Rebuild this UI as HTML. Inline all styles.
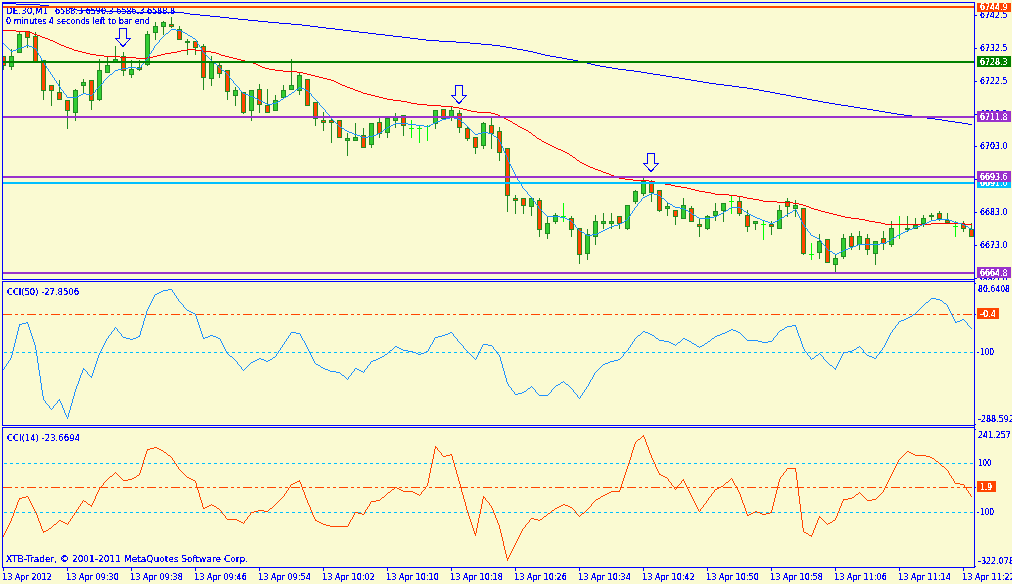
<!DOCTYPE html>
<html lang="en"><head><meta charset="utf-8"><title>DE.30,M1</title>
<style>html,body{margin:0;padding:0;background:#FAFAD2;overflow:hidden}svg{display:block}text{white-space:pre}</style></head>
<body>
<svg width="1012" height="584" viewBox="0 0 1012 584" style="display:block">
<rect x="0" y="0" width="1012" height="584" fill="#FAFAD2"/>
<g shape-rendering="crispEdges" font-family='"DejaVu Sans Condensed", "Liberation Sans", sans-serif'>
<defs><filter id="cr" x="-5%" y="-20%" width="110%" height="140%" color-interpolation-filters="sRGB"><feComponentTransfer><feFuncA type="discrete" tableValues="0 0 0 0 0 0 0 1 1 1 1 1 1 1 1 1 1 1 1 1"/></feComponentTransfer></filter><clipPath id="cm"><rect x="3" y="3" width="971" height="276"/></clipPath><clipPath id="c2"><rect x="3" y="282" width="971" height="143"/></clipPath><clipPath id="c3"><rect x="3" y="428" width="971" height="139"/></clipPath></defs>
<g clip-path="url(#cm)">
<text filter="url(#cr)" transform="translate(6,14) scale(1,1)" fill="#0000FF" stroke="#0000FF" stroke-width="0" font-size="9" textLength="45" lengthAdjust="spacingAndGlyphs">DE.30,M1 </text>
<text filter="url(#cr)" transform="translate(55,14) scale(1,1)" fill="#0000FF" stroke="#0000FF" stroke-width="0" font-size="9" textLength="120" lengthAdjust="spacingAndGlyphs">6588.3 6590.3 6586.3 6588.8</text>
<text filter="url(#cr)" transform="translate(6,24) scale(1,1)" fill="#0000FF" stroke="#0000FF" stroke-width="0" font-size="9" textLength="144" lengthAdjust="spacingAndGlyphs">0 minutes 4 seconds left to bar end</text>
<rect x="3" y="56" width="1" height="14" fill="#228B22"/>
<rect x="1" y="56" width="5" height="10" fill="#228B22"/>
<rect x="2" y="57" width="3" height="8" fill="#FF4500"/>
<rect x="11" y="49" width="1" height="21" fill="#228B22"/>
<rect x="9" y="56" width="5" height="11" fill="#228B22"/>
<rect x="10" y="57" width="3" height="9" fill="#32CD32"/>
<rect x="19" y="31" width="1" height="22" fill="#228B22"/>
<rect x="17" y="34" width="5" height="19" fill="#228B22"/>
<rect x="18" y="35" width="3" height="17" fill="#32CD32"/>
<rect x="27" y="31" width="1" height="17" fill="#228B22"/>
<rect x="25" y="31" width="5" height="7" fill="#228B22"/>
<rect x="26" y="32" width="3" height="5" fill="#FF4500"/>
<rect x="35" y="32" width="1" height="30" fill="#228B22"/>
<rect x="33" y="36" width="5" height="26" fill="#228B22"/>
<rect x="34" y="37" width="3" height="24" fill="#FF4500"/>
<rect x="43" y="60" width="1" height="40" fill="#228B22"/>
<rect x="41" y="60" width="5" height="31" fill="#228B22"/>
<rect x="42" y="61" width="3" height="29" fill="#FF4500"/>
<rect x="51" y="85" width="1" height="21" fill="#228B22"/>
<rect x="49" y="85" width="5" height="6" fill="#228B22"/>
<rect x="50" y="86" width="3" height="4" fill="#FF4500"/>
<rect x="59" y="80" width="1" height="20" fill="#228B22"/>
<rect x="57" y="92" width="5" height="8" fill="#228B22"/>
<rect x="58" y="93" width="3" height="6" fill="#FF4500"/>
<rect x="67" y="100" width="1" height="29" fill="#228B22"/>
<rect x="65" y="100" width="5" height="11" fill="#228B22"/>
<rect x="66" y="101" width="3" height="9" fill="#FF4500"/>
<rect x="75" y="89" width="1" height="32" fill="#228B22"/>
<rect x="73" y="90" width="5" height="23" fill="#228B22"/>
<rect x="74" y="91" width="3" height="21" fill="#32CD32"/>
<rect x="83" y="79" width="1" height="15" fill="#228B22"/>
<rect x="81" y="82" width="5" height="4" fill="#228B22"/>
<rect x="82" y="83" width="3" height="2" fill="#32CD32"/>
<rect x="91" y="80" width="1" height="30" fill="#228B22"/>
<rect x="89" y="80" width="5" height="21" fill="#228B22"/>
<rect x="90" y="81" width="3" height="19" fill="#FF4500"/>
<rect x="99" y="59" width="1" height="42" fill="#228B22"/>
<rect x="97" y="70" width="5" height="30" fill="#228B22"/>
<rect x="98" y="71" width="3" height="28" fill="#32CD32"/>
<rect x="107" y="57" width="1" height="16" fill="#228B22"/>
<rect x="105" y="65" width="5" height="8" fill="#228B22"/>
<rect x="106" y="66" width="3" height="6" fill="#32CD32"/>
<rect x="115" y="46" width="1" height="16" fill="#228B22"/>
<rect x="113" y="59" width="5" height="3" fill="#228B22"/>
<rect x="114" y="60" width="3" height="1" fill="#32CD32"/>
<rect x="123" y="52" width="1" height="24" fill="#228B22"/>
<rect x="121" y="56" width="5" height="15" fill="#228B22"/>
<rect x="122" y="57" width="3" height="13" fill="#FF4500"/>
<rect x="131" y="60" width="1" height="18" fill="#228B22"/>
<rect x="129" y="69" width="5" height="6" fill="#228B22"/>
<rect x="130" y="70" width="3" height="4" fill="#32CD32"/>
<rect x="139" y="60" width="1" height="11" fill="#228B22"/>
<rect x="137" y="67" width="5" height="3" fill="#228B22"/>
<rect x="138" y="68" width="3" height="1" fill="#FF4500"/>
<rect x="147" y="31" width="1" height="35" fill="#228B22"/>
<rect x="145" y="34" width="5" height="31" fill="#228B22"/>
<rect x="146" y="35" width="3" height="29" fill="#32CD32"/>
<rect x="155" y="22" width="1" height="18" fill="#228B22"/>
<rect x="153" y="26" width="5" height="7" fill="#228B22"/>
<rect x="154" y="27" width="3" height="5" fill="#32CD32"/>
<rect x="163" y="21" width="1" height="14" fill="#228B22"/>
<rect x="161" y="22" width="5" height="5" fill="#228B22"/>
<rect x="162" y="23" width="3" height="3" fill="#32CD32"/>
<rect x="171" y="17" width="1" height="11" fill="#228B22"/>
<rect x="169" y="24" width="5" height="3" fill="#228B22"/>
<rect x="170" y="25" width="3" height="1" fill="#FF4500"/>
<rect x="179" y="26" width="1" height="14" fill="#228B22"/>
<rect x="177" y="29" width="5" height="11" fill="#228B22"/>
<rect x="178" y="30" width="3" height="9" fill="#FF4500"/>
<rect x="187" y="39" width="1" height="16" fill="#228B22"/>
<rect x="185" y="41" width="5" height="2" fill="#228B22"/>
<rect x="195" y="41" width="1" height="14" fill="#228B22"/>
<rect x="193" y="41" width="5" height="7" fill="#228B22"/>
<rect x="194" y="42" width="3" height="5" fill="#FF4500"/>
<rect x="203" y="44" width="1" height="46" fill="#228B22"/>
<rect x="201" y="46" width="5" height="32" fill="#228B22"/>
<rect x="202" y="47" width="3" height="30" fill="#FF4500"/>
<rect x="211" y="56" width="1" height="30" fill="#228B22"/>
<rect x="209" y="62" width="5" height="17" fill="#228B22"/>
<rect x="210" y="63" width="3" height="15" fill="#32CD32"/>
<rect x="219" y="63" width="1" height="15" fill="#228B22"/>
<rect x="217" y="65" width="5" height="9" fill="#228B22"/>
<rect x="218" y="66" width="3" height="7" fill="#FF4500"/>
<rect x="227" y="70" width="1" height="30" fill="#228B22"/>
<rect x="225" y="70" width="5" height="22" fill="#228B22"/>
<rect x="226" y="71" width="3" height="20" fill="#FF4500"/>
<rect x="235" y="87" width="1" height="19" fill="#228B22"/>
<rect x="233" y="90" width="5" height="6" fill="#228B22"/>
<rect x="234" y="91" width="3" height="4" fill="#32CD32"/>
<rect x="243" y="92" width="1" height="22" fill="#228B22"/>
<rect x="241" y="92" width="5" height="21" fill="#228B22"/>
<rect x="242" y="93" width="3" height="19" fill="#FF4500"/>
<rect x="251" y="90" width="1" height="31" fill="#228B22"/>
<rect x="249" y="90" width="5" height="21" fill="#228B22"/>
<rect x="250" y="91" width="3" height="19" fill="#32CD32"/>
<rect x="259" y="84" width="1" height="29" fill="#228B22"/>
<rect x="257" y="89" width="5" height="16" fill="#228B22"/>
<rect x="258" y="90" width="3" height="14" fill="#FF4500"/>
<rect x="267" y="89" width="1" height="24" fill="#228B22"/>
<rect x="265" y="105" width="5" height="8" fill="#228B22"/>
<rect x="266" y="106" width="3" height="6" fill="#FF4500"/>
<rect x="275" y="95" width="1" height="16" fill="#228B22"/>
<rect x="273" y="100" width="5" height="11" fill="#228B22"/>
<rect x="274" y="101" width="3" height="9" fill="#32CD32"/>
<rect x="283" y="85" width="1" height="13" fill="#228B22"/>
<rect x="281" y="90" width="5" height="8" fill="#228B22"/>
<rect x="282" y="91" width="3" height="6" fill="#32CD32"/>
<rect x="291" y="59" width="1" height="31" fill="#228B22"/>
<rect x="289" y="85" width="5" height="5" fill="#228B22"/>
<rect x="290" y="86" width="3" height="3" fill="#32CD32"/>
<rect x="299" y="72" width="1" height="23" fill="#228B22"/>
<rect x="297" y="75" width="5" height="16" fill="#228B22"/>
<rect x="298" y="76" width="3" height="14" fill="#32CD32"/>
<rect x="307" y="79" width="1" height="27" fill="#228B22"/>
<rect x="305" y="79" width="5" height="27" fill="#228B22"/>
<rect x="306" y="80" width="3" height="25" fill="#FF4500"/>
<rect x="315" y="102" width="1" height="24" fill="#228B22"/>
<rect x="313" y="102" width="5" height="17" fill="#228B22"/>
<rect x="314" y="103" width="3" height="15" fill="#FF4500"/>
<rect x="323" y="112" width="1" height="19" fill="#228B22"/>
<rect x="321" y="120" width="5" height="3" fill="#228B22"/>
<rect x="322" y="121" width="3" height="1" fill="#FF4500"/>
<rect x="331" y="116" width="1" height="27" fill="#228B22"/>
<rect x="329" y="120" width="5" height="3" fill="#228B22"/>
<rect x="330" y="121" width="3" height="1" fill="#FF4500"/>
<rect x="339" y="120" width="1" height="18" fill="#228B22"/>
<rect x="337" y="120" width="5" height="18" fill="#228B22"/>
<rect x="338" y="121" width="3" height="16" fill="#FF4500"/>
<rect x="347" y="133" width="1" height="23" fill="#228B22"/>
<rect x="345" y="138" width="5" height="3" fill="#228B22"/>
<rect x="346" y="139" width="3" height="1" fill="#32CD32"/>
<rect x="355" y="123" width="1" height="18" fill="#228B22"/>
<rect x="353" y="137" width="5" height="4" fill="#228B22"/>
<rect x="354" y="138" width="3" height="2" fill="#32CD32"/>
<rect x="363" y="128" width="1" height="20" fill="#228B22"/>
<rect x="361" y="135" width="5" height="13" fill="#228B22"/>
<rect x="362" y="136" width="3" height="11" fill="#FF4500"/>
<rect x="371" y="123" width="1" height="25" fill="#228B22"/>
<rect x="369" y="123" width="5" height="22" fill="#228B22"/>
<rect x="370" y="124" width="3" height="20" fill="#32CD32"/>
<rect x="379" y="118" width="1" height="20" fill="#228B22"/>
<rect x="377" y="122" width="5" height="12" fill="#228B22"/>
<rect x="378" y="123" width="3" height="10" fill="#FF4500"/>
<rect x="387" y="118" width="1" height="20" fill="#228B22"/>
<rect x="385" y="118" width="5" height="15" fill="#228B22"/>
<rect x="386" y="119" width="3" height="13" fill="#32CD32"/>
<rect x="395" y="113" width="1" height="15" fill="#228B22"/>
<rect x="393" y="117" width="5" height="4" fill="#228B22"/>
<rect x="394" y="118" width="3" height="2" fill="#32CD32"/>
<rect x="403" y="115" width="1" height="21" fill="#228B22"/>
<rect x="401" y="115" width="5" height="11" fill="#228B22"/>
<rect x="402" y="116" width="3" height="9" fill="#FF4500"/>
<rect x="411" y="120" width="1" height="18" fill="#00FF00"/>
<rect x="409" y="128" width="5" height="1" fill="#00FF00"/>
<rect x="419" y="126" width="1" height="17" fill="#00FF00"/>
<rect x="417" y="128" width="5" height="1" fill="#00FF00"/>
<rect x="427" y="125" width="1" height="16" fill="#00FF00"/>
<rect x="425" y="126" width="5" height="1" fill="#00FF00"/>
<rect x="435" y="110" width="1" height="19" fill="#228B22"/>
<rect x="433" y="110" width="5" height="14" fill="#228B22"/>
<rect x="434" y="111" width="3" height="12" fill="#32CD32"/>
<rect x="443" y="109" width="1" height="10" fill="#228B22"/>
<rect x="441" y="109" width="5" height="10" fill="#228B22"/>
<rect x="442" y="110" width="3" height="8" fill="#FF4500"/>
<rect x="451" y="106" width="1" height="15" fill="#228B22"/>
<rect x="449" y="110" width="5" height="7" fill="#228B22"/>
<rect x="450" y="111" width="3" height="5" fill="#32CD32"/>
<rect x="459" y="110" width="1" height="23" fill="#228B22"/>
<rect x="457" y="113" width="5" height="15" fill="#228B22"/>
<rect x="458" y="114" width="3" height="13" fill="#FF4500"/>
<rect x="467" y="126" width="1" height="15" fill="#228B22"/>
<rect x="465" y="128" width="5" height="11" fill="#228B22"/>
<rect x="466" y="129" width="3" height="9" fill="#FF4500"/>
<rect x="475" y="137" width="1" height="17" fill="#228B22"/>
<rect x="473" y="137" width="5" height="11" fill="#228B22"/>
<rect x="474" y="138" width="3" height="9" fill="#FF4500"/>
<rect x="483" y="122" width="1" height="27" fill="#228B22"/>
<rect x="481" y="123" width="5" height="23" fill="#228B22"/>
<rect x="482" y="124" width="3" height="21" fill="#32CD32"/>
<rect x="491" y="118" width="1" height="31" fill="#228B22"/>
<rect x="489" y="125" width="5" height="9" fill="#228B22"/>
<rect x="490" y="126" width="3" height="7" fill="#FF4500"/>
<rect x="499" y="127" width="1" height="34" fill="#228B22"/>
<rect x="497" y="131" width="5" height="22" fill="#228B22"/>
<rect x="498" y="132" width="3" height="20" fill="#FF4500"/>
<rect x="507" y="148" width="1" height="64" fill="#228B22"/>
<rect x="505" y="148" width="5" height="48" fill="#228B22"/>
<rect x="506" y="149" width="3" height="46" fill="#FF4500"/>
<rect x="515" y="195" width="1" height="19" fill="#228B22"/>
<rect x="513" y="198" width="5" height="3" fill="#228B22"/>
<rect x="514" y="199" width="3" height="1" fill="#FF4500"/>
<rect x="523" y="198" width="1" height="16" fill="#228B22"/>
<rect x="521" y="198" width="5" height="8" fill="#228B22"/>
<rect x="522" y="199" width="3" height="6" fill="#FF4500"/>
<rect x="531" y="198" width="1" height="18" fill="#228B22"/>
<rect x="529" y="198" width="5" height="9" fill="#228B22"/>
<rect x="530" y="199" width="3" height="7" fill="#32CD32"/>
<rect x="539" y="198" width="1" height="39" fill="#228B22"/>
<rect x="537" y="200" width="5" height="30" fill="#228B22"/>
<rect x="538" y="201" width="3" height="28" fill="#FF4500"/>
<rect x="547" y="217" width="1" height="22" fill="#228B22"/>
<rect x="545" y="223" width="5" height="11" fill="#228B22"/>
<rect x="546" y="224" width="3" height="9" fill="#32CD32"/>
<rect x="555" y="213" width="1" height="11" fill="#228B22"/>
<rect x="553" y="215" width="5" height="7" fill="#228B22"/>
<rect x="554" y="216" width="3" height="5" fill="#32CD32"/>
<rect x="563" y="203" width="1" height="19" fill="#00FF00"/>
<rect x="561" y="216" width="5" height="1" fill="#00FF00"/>
<rect x="571" y="216" width="1" height="21" fill="#228B22"/>
<rect x="569" y="218" width="5" height="12" fill="#228B22"/>
<rect x="570" y="219" width="3" height="10" fill="#FF4500"/>
<rect x="579" y="228" width="1" height="36" fill="#228B22"/>
<rect x="577" y="228" width="5" height="27" fill="#228B22"/>
<rect x="578" y="229" width="3" height="25" fill="#FF4500"/>
<rect x="587" y="229" width="1" height="31" fill="#228B22"/>
<rect x="585" y="234" width="5" height="20" fill="#228B22"/>
<rect x="586" y="235" width="3" height="18" fill="#32CD32"/>
<rect x="595" y="215" width="1" height="30" fill="#228B22"/>
<rect x="593" y="221" width="5" height="16" fill="#228B22"/>
<rect x="594" y="222" width="3" height="14" fill="#32CD32"/>
<rect x="603" y="213" width="1" height="16" fill="#228B22"/>
<rect x="601" y="221" width="5" height="3" fill="#228B22"/>
<rect x="602" y="222" width="3" height="1" fill="#32CD32"/>
<rect x="611" y="213" width="1" height="16" fill="#228B22"/>
<rect x="609" y="221" width="5" height="3" fill="#228B22"/>
<rect x="610" y="222" width="3" height="1" fill="#32CD32"/>
<rect x="619" y="216" width="1" height="13" fill="#228B22"/>
<rect x="617" y="216" width="5" height="8" fill="#228B22"/>
<rect x="618" y="217" width="3" height="6" fill="#FF4500"/>
<rect x="627" y="205" width="1" height="25" fill="#228B22"/>
<rect x="625" y="205" width="5" height="24" fill="#228B22"/>
<rect x="626" y="206" width="3" height="22" fill="#32CD32"/>
<rect x="635" y="190" width="1" height="14" fill="#228B22"/>
<rect x="633" y="191" width="5" height="11" fill="#228B22"/>
<rect x="634" y="192" width="3" height="9" fill="#32CD32"/>
<rect x="643" y="178" width="1" height="18" fill="#228B22"/>
<rect x="641" y="181" width="5" height="13" fill="#228B22"/>
<rect x="642" y="182" width="3" height="11" fill="#32CD32"/>
<rect x="651" y="180" width="1" height="22" fill="#228B22"/>
<rect x="649" y="181" width="5" height="12" fill="#228B22"/>
<rect x="650" y="182" width="3" height="10" fill="#FF4500"/>
<rect x="659" y="190" width="1" height="22" fill="#228B22"/>
<rect x="657" y="190" width="5" height="21" fill="#228B22"/>
<rect x="658" y="191" width="3" height="19" fill="#FF4500"/>
<rect x="667" y="203" width="1" height="13" fill="#228B22"/>
<rect x="665" y="206" width="5" height="3" fill="#228B22"/>
<rect x="666" y="207" width="3" height="1" fill="#32CD32"/>
<rect x="675" y="210" width="1" height="15" fill="#228B22"/>
<rect x="673" y="210" width="5" height="7" fill="#228B22"/>
<rect x="674" y="211" width="3" height="5" fill="#FF4500"/>
<rect x="683" y="198" width="1" height="21" fill="#228B22"/>
<rect x="681" y="205" width="5" height="14" fill="#228B22"/>
<rect x="682" y="206" width="3" height="12" fill="#32CD32"/>
<rect x="691" y="206" width="1" height="16" fill="#228B22"/>
<rect x="689" y="208" width="5" height="14" fill="#228B22"/>
<rect x="690" y="209" width="3" height="12" fill="#FF4500"/>
<rect x="699" y="219" width="1" height="18" fill="#228B22"/>
<rect x="697" y="224" width="5" height="3" fill="#228B22"/>
<rect x="698" y="225" width="3" height="1" fill="#FF4500"/>
<rect x="707" y="215" width="1" height="15" fill="#228B22"/>
<rect x="705" y="216" width="5" height="13" fill="#228B22"/>
<rect x="706" y="217" width="3" height="11" fill="#32CD32"/>
<rect x="715" y="203" width="1" height="18" fill="#228B22"/>
<rect x="713" y="211" width="5" height="5" fill="#228B22"/>
<rect x="714" y="212" width="3" height="3" fill="#32CD32"/>
<rect x="723" y="203" width="1" height="19" fill="#228B22"/>
<rect x="721" y="203" width="5" height="8" fill="#228B22"/>
<rect x="722" y="204" width="3" height="6" fill="#32CD32"/>
<rect x="731" y="196" width="1" height="18" fill="#00FF00"/>
<rect x="729" y="201" width="5" height="1" fill="#00FF00"/>
<rect x="739" y="196" width="1" height="20" fill="#228B22"/>
<rect x="737" y="201" width="5" height="13" fill="#228B22"/>
<rect x="738" y="202" width="3" height="11" fill="#FF4500"/>
<rect x="747" y="210" width="1" height="22" fill="#228B22"/>
<rect x="745" y="215" width="5" height="12" fill="#228B22"/>
<rect x="746" y="216" width="3" height="10" fill="#FF4500"/>
<rect x="755" y="221" width="1" height="9" fill="#228B22"/>
<rect x="753" y="221" width="5" height="3" fill="#228B22"/>
<rect x="754" y="222" width="3" height="1" fill="#32CD32"/>
<rect x="763" y="221" width="1" height="19" fill="#00FF00"/>
<rect x="761" y="224" width="5" height="1" fill="#00FF00"/>
<rect x="771" y="221" width="1" height="14" fill="#228B22"/>
<rect x="769" y="224" width="5" height="3" fill="#228B22"/>
<rect x="770" y="225" width="3" height="1" fill="#FF4500"/>
<rect x="779" y="205" width="1" height="24" fill="#228B22"/>
<rect x="777" y="210" width="5" height="19" fill="#228B22"/>
<rect x="778" y="211" width="3" height="17" fill="#32CD32"/>
<rect x="787" y="198" width="1" height="19" fill="#228B22"/>
<rect x="785" y="201" width="5" height="6" fill="#228B22"/>
<rect x="786" y="202" width="3" height="4" fill="#FF4500"/>
<rect x="795" y="200" width="1" height="17" fill="#228B22"/>
<rect x="793" y="205" width="5" height="4" fill="#228B22"/>
<rect x="794" y="206" width="3" height="2" fill="#32CD32"/>
<rect x="803" y="208" width="1" height="47" fill="#228B22"/>
<rect x="801" y="208" width="5" height="46" fill="#228B22"/>
<rect x="802" y="209" width="3" height="44" fill="#FF4500"/>
<rect x="811" y="243" width="1" height="17" fill="#00FF00"/>
<rect x="809" y="254" width="5" height="1" fill="#00FF00"/>
<rect x="819" y="234" width="1" height="25" fill="#228B22"/>
<rect x="817" y="241" width="5" height="12" fill="#228B22"/>
<rect x="818" y="242" width="3" height="10" fill="#32CD32"/>
<rect x="827" y="239" width="1" height="24" fill="#228B22"/>
<rect x="825" y="239" width="5" height="24" fill="#228B22"/>
<rect x="826" y="240" width="3" height="22" fill="#FF4500"/>
<rect x="835" y="255" width="1" height="17" fill="#228B22"/>
<rect x="833" y="258" width="5" height="7" fill="#228B22"/>
<rect x="834" y="259" width="3" height="5" fill="#32CD32"/>
<rect x="843" y="234" width="1" height="25" fill="#228B22"/>
<rect x="841" y="238" width="5" height="19" fill="#228B22"/>
<rect x="842" y="239" width="3" height="17" fill="#32CD32"/>
<rect x="851" y="233" width="1" height="17" fill="#228B22"/>
<rect x="849" y="236" width="5" height="11" fill="#228B22"/>
<rect x="850" y="237" width="3" height="9" fill="#FF4500"/>
<rect x="859" y="231" width="1" height="19" fill="#228B22"/>
<rect x="857" y="236" width="5" height="9" fill="#228B22"/>
<rect x="858" y="237" width="3" height="7" fill="#32CD32"/>
<rect x="867" y="234" width="1" height="21" fill="#228B22"/>
<rect x="865" y="238" width="5" height="12" fill="#228B22"/>
<rect x="866" y="239" width="3" height="10" fill="#FF4500"/>
<rect x="875" y="241" width="1" height="24" fill="#228B22"/>
<rect x="873" y="241" width="5" height="13" fill="#228B22"/>
<rect x="874" y="242" width="3" height="11" fill="#32CD32"/>
<rect x="883" y="231" width="1" height="19" fill="#228B22"/>
<rect x="881" y="238" width="5" height="6" fill="#228B22"/>
<rect x="882" y="239" width="3" height="4" fill="#FF4500"/>
<rect x="891" y="221" width="1" height="26" fill="#228B22"/>
<rect x="889" y="228" width="5" height="17" fill="#228B22"/>
<rect x="890" y="229" width="3" height="15" fill="#32CD32"/>
<rect x="899" y="216" width="1" height="23" fill="#00FF00"/>
<rect x="907" y="216" width="1" height="16" fill="#228B22"/>
<rect x="905" y="228" width="5" height="2" fill="#228B22"/>
<rect x="915" y="218" width="1" height="11" fill="#228B22"/>
<rect x="913" y="225" width="5" height="4" fill="#228B22"/>
<rect x="914" y="226" width="3" height="2" fill="#32CD32"/>
<rect x="923" y="215" width="1" height="12" fill="#228B22"/>
<rect x="921" y="218" width="5" height="6" fill="#228B22"/>
<rect x="922" y="219" width="3" height="4" fill="#32CD32"/>
<rect x="931" y="213" width="1" height="7" fill="#228B22"/>
<rect x="929" y="215" width="5" height="2" fill="#228B22"/>
<rect x="939" y="211" width="1" height="10" fill="#228B22"/>
<rect x="937" y="213" width="5" height="6" fill="#228B22"/>
<rect x="938" y="214" width="3" height="4" fill="#FF4500"/>
<rect x="947" y="213" width="1" height="10" fill="#228B22"/>
<rect x="945" y="220" width="5" height="3" fill="#228B22"/>
<rect x="946" y="221" width="3" height="1" fill="#FF4500"/>
<rect x="955" y="221" width="1" height="16" fill="#00FF00"/>
<rect x="953" y="226" width="5" height="1" fill="#00FF00"/>
<rect x="963" y="221" width="1" height="11" fill="#228B22"/>
<rect x="961" y="224" width="5" height="5" fill="#228B22"/>
<rect x="962" y="225" width="3" height="3" fill="#FF4500"/>
<rect x="971" y="223" width="1" height="14" fill="#228B22"/>
<rect x="969" y="229" width="5" height="8" fill="#228B22"/>
<rect x="970" y="230" width="3" height="6" fill="#FF4500"/>
<path d="M426 40.5h13M105 11.5h30M16 4.5h24M49 6.5h9M626 70.5h8M481 44.5h11M591 64.5h4M747 88.5h6M703 82.5h6M343 30.5h8M666 76.5h6M291 24.5h11M812 100.5h6M220 17.5h9M780 94.5h6M359 32.5h9M58 7.5h11M672 77.5h7M302 25.5h8M955 122.5h7M634 71.5h7M753 89.5h6M854 107.5h6M368 33.5h8M318 27.5h8M77 10.5h28M3 3.5h13M439 41.5h17M326 28.5h9M732 86.5h7M258 21.5h10M135 12.5h49M393 36.5h9M541 54.5h4M796 97.5h6M904 115.5h8M456 42.5h14M385 35.5h8M402 37.5h8M573 60.5h5M829 103.5h6M841 105.5h7M948 121.5h7M470 43.5h11M492 45.5h8M595 65.5h5M873 110.5h6M545 55.5h5M647 73.5h6M927 118.5h8M410 38.5h8M606 67.5h6M885 112.5h6M190 14.5h10M807 99.5h5M920 117.5h7M418 39.5h8M691 80.5h6M310 26.5h8M653 74.5h7M248 20.5h10M802 98.5h5M184 13.5h6M200 15.5h10M506 47.5h6M40 5.5h9M567 59.5h6M697 81.5h6M942 120.5h6M517 49.5h6M618 69.5h8M739 87.5h8M335 29.5h8M210 16.5h10M229 18.5h9M716 84.5h8M835 104.5h6M679 78.5h6M848 106.5h6M238 19.5h10M786 95.5h5M612 68.5h6M764 91.5h6M891 113.5h6M724 85.5h8M562 58.5h5M268 22.5h11M935 119.5h7M860 108.5h7M912 116.5h8M523 50.5h5M69 8.5h4M962 123.5h6M578 61.5h5M709 83.5h7M556 57.5h6M528 51.5h5M685 79.5h6M376 34.5h9M823 102.5h6M770 92.5h5M897 114.5h7M775 93.5h5M600 66.5h6M351 31.5h8M550 56.5h6M879 111.5h6M968 124.5h4M533 52.5h4M500 46.5h6M512 48.5h5M660 75.5h6M279 23.5h12M641 72.5h6M791 96.5h5M73 9.5h4M867 109.5h6M583 62.5h4M759 90.5h5M537 53.5h4M818 101.5h5M587 63.5h4" fill="none" stroke="#0000FF" stroke-width="1"/>
<path d="M3 30.5h13M793 203.5h6M283 71.5h14M96 55.5h8M157 55.5h4M221 55.5h4M78 51.5h4M177 51.5h4M203 51.5h8M29 32.5h3M361 92.5h2M467 110.5h4M588 166.5h2M120 57.5h16M147 57.5h6M229 57.5h4M417 104.5h10M580 162.5h2M508 120.5h2M74 50.5h4M181 50.5h6M195 50.5h8M865 220.5h4M885 224.5h46M965 224.5h7M881 223.5h4M931 223.5h34M818 210.5h3M249 62.5h4M411 103.5h6M427 105.5h14M510 121.5h2M603 172.5h3M471 111.5h6M665 184.5h6M715 194.5h14M72 49.5h2M187 49.5h8M37 35.5h3M82 52.5h4M171 52.5h6M211 52.5h5M477 112.5h14M441 106.5h12M625 179.5h8M777 202.5h16M743 197.5h4M504 118.5h2M699 191.5h6M649 181.5h6M104 56.5h16M153 56.5h4M225 56.5h4M859 219.5h6M837 215.5h4M453 107.5h6M40 36.5h2M598 170.5h3M633 180.5h16M260 66.5h2M32 33.5h2M323 78.5h4M387 99.5h6M753 199.5h6M821 211.5h4M763 201.5h14M869 221.5h6M86 53.5h4M165 53.5h6M216 53.5h3M34 34.5h3M327 79.5h4M367 94.5h4M759 200.5h4M737 196.5h6M825 212.5h4M256 64.5h2M851 218.5h8M875 222.5h6M297 72.5h6M136 58.5h11M233 58.5h4M401 101.5h6M319 77.5h4M42 37.5h3M799 204.5h4M606 173.5h3M729 195.5h8M363 93.5h4M55 42.5h2M845 217.5h6M45 38.5h3M609 174.5h2M48 39.5h2M331 80.5h3M16 31.5h13M275 70.5h8M601 171.5h2M829 213.5h4M681 187.5h6M50 40.5h3M262 67.5h3M303 73.5h4M253 63.5h3M66 47.5h3M655 182.5h4M747 198.5h6M841 216.5h4M307 74.5h4M59 44.5h2M69 48.5h3M371 95.5h4M237 59.5h4M619 178.5h6M529 132.5h2M258 65.5h2M61 45.5h3M53 41.5h2M345 86.5h2M459 108.5h4M611 175.5h3M338 83.5h2M522 128.5h2M687 188.5h4M614 176.5h3M57 43.5h2M90 54.5h6M161 54.5h4M219 54.5h2M617 177.5h2M711 193.5h4M691 189.5h4M809 207.5h2M311 75.5h4M269 69.5h6M342 85.5h3M334 81.5h2M375 96.5h4M570 155.5h2M526 130.5h2M518 126.5h2M407 102.5h4M241 60.5h4M315 76.5h4M556 148.5h2M379 97.5h4M803 205.5h3M350 88.5h3M515 124.5h2M806 206.5h3M548 144.5h2M353 89.5h2M695 190.5h4M491 113.5h4M675 186.5h6M705 192.5h6M355 90.5h3M552 146.5h2M544 142.5h2M537 138.5h2M347 87.5h3M463 109.5h4M383 98.5h4M393 100.5h8M590 167.5h3M582 163.5h2M659 183.5h6M358 91.5h3M563 151.5h2M245 61.5h4M811 208.5h3M577 160.5h2M833 214.5h4M586 165.5h2M506 119.5h2M498 115.5h2M814 209.5h4M558 149.5h3M500 116.5h2M595 169.5h3M502 117.5h2M495 114.5h3M593 168.5h2M584 164.5h2M533 135.5h2M573 157.5h2M265 68.5h4M671 185.5h4M64 46.5h2M520 127.5h2M336 82.5h2M565 152.5h2M524 129.5h2M561 150.5h2M513 123.5h2M554 147.5h2M550 145.5h2M542 141.5h2M567 153.5h2M546 143.5h2M340 84.5h2M539 139.5h2M535.5 136v1M517.5 125v1M579.5 161v1M512.5 122v1M572.5 156v1M532.5 134v1M528.5 131v1M569.5 154v1M531.5 133v1M576.5 159v1M536.5 137v1M575.5 158v1M541.5 140v1" fill="none" stroke="#FF0000" stroke-width="1"/>
<path d="M440 120.5h2M839 252.5h2M622 222.5h2M768 222.5h2M773 222.5h2M927 222.5h2M954 222.5h4M128 67.5h8M547 216.5h13M714 216.5h3M753 216.5h2M265 103.5h2M272 103.5h4M395 123.5h13M433 123.5h2M391 125.5h2M416 125.5h8M429 125.5h2M567 219.5h2M760 219.5h2M936 219.5h13M765 221.5h3M775 221.5h2M929 221.5h2M952 221.5h2M673 206.5h2M597 233.5h2M901 233.5h2M79 95.5h2M90 95.5h2M248 95.5h2M393 124.5h2M408 124.5h8M431 124.5h2M166 33.5h2M185 33.5h2M689 212.5h2M790 212.5h2M21 47.5h3M32 47.5h2M342 128.5h2M362 137.5h6M885 242.5h2M446 118.5h4M454 118.5h4M352 133.5h2M378 133.5h2M478 133.5h4M488 133.5h4M267 104.5h5M858 244.5h22M569 220.5h2M625 220.5h2M762 220.5h3M777 220.5h2M931 220.5h5M949 220.5h3M296 89.5h2M304 89.5h2M724 211.5h2M744 211.5h2M605 229.5h2M909 229.5h3M360 136.5h2M368 136.5h5M494 136.5h2M16 49.5h2M675 207.5h5M731 207.5h9M214 63.5h2M349 132.5h3M380 132.5h2M482 132.5h6M607 228.5h2M912 228.5h2M969 228.5h2M565 218.5h2M699 218.5h11M757 218.5h3M780 218.5h2M880 243.5h5M614 225.5h4M920 225.5h2M964 225.5h2M384 129.5h2M81 94.5h2M86 94.5h4M245 94.5h3M289 94.5h2M354 134.5h3M376 134.5h2M475 134.5h3M850 247.5h3M83 93.5h3M243 93.5h2M257 99.5h2M281 99.5h2M609 227.5h2M914 227.5h3M389 126.5h2M424 126.5h5M67 97.5h10M253 97.5h2M284 97.5h2M845 249.5h3M450 117.5h4M560 217.5h5M697 217.5h2M710 217.5h4M755 217.5h2M782 217.5h2M817 238.5h2M892 238.5h2M684 209.5h2M115 70.5h3M222 70.5h2M24 46.5h2M29 46.5h3M122 68.5h6M136 68.5h4M580 231.5h2M601 231.5h2M905 231.5h2M680 208.5h4M729 208.5h2M740 208.5h2M620 223.5h2M770 223.5h3M925 223.5h2M958 223.5h4M603 230.5h2M907 230.5h2M721 213.5h2M747 213.5h2M788 213.5h2M686 210.5h2M726 210.5h2M793 210.5h2M694 215.5h2M717 215.5h2M751 215.5h2M785 215.5h2M261 101.5h2M278 101.5h2M437 121.5h3M647 195.5h2M658 195.5h2M13 50.5h3M889 240.5h2M171 29.5h5M585 234.5h2M592 234.5h5M899 234.5h2M26 45.5h3M651 193.5h3M77 96.5h2M250 96.5h3M286 96.5h2M643 197.5h2M442 119.5h4M458 119.5h2M18 48.5h3M34 48.5h2M255 98.5h2M662 198.5h2M649 194.5h2M654 194.5h4M582 232.5h2M599 232.5h2M903 232.5h2M853 246.5h3M11 51.5h2M692 214.5h2M719 214.5h2M749 214.5h2M618 224.5h2M922 224.5h3M962 224.5h2M587 235.5h5M811 235.5h2M897 235.5h2M301 88.5h3M357 135.5h3M373 135.5h3M611 226.5h3M917 226.5h3M966 226.5h2M181 31.5h2M118 69.5h4M830 251.5h2M841 251.5h2M306 90.5h2M435 122.5h2M462 122.5h2M299 87.5h2M176 30.5h5M815 237.5h2M894 237.5h2M190 36.5h2M340 127.5h2M387 127.5h2M259 100.5h2M345 130.5h2M292 92.5h2M183 32.5h2M347 131.5h2M668 203.5h2M110 74.5h2M833 253.5h2M837 253.5h2M263 102.5h2M276 102.5h2M670 204.5h2M828 250.5h2M843 250.5h2M645 196.5h2M856 245.5h2M887 241.5h2M193 38.5h2M813 236.5h2M188 35.5h2M835 254.5h2M848 248.5h2M233.5 81v2M832.5 252v1M572.5 222v1M319.5 103v2M636.5 206v1M146.5 59v1M526.5 191v1M158.5 42v1M207.5 56v1M746.5 212v1M104.5 80v1M810.5 233v2M54.5 78v2M508.5 160v2M821.5 241v2M460.5 120v1M99.5 86v1M792.5 211v1M9.5 49v1M784.5 216v1M505.5 153v2M632.5 211v2M232.5 80v1M519.5 181v2M627.5 219v1M666.5 201v1M338.5 125v1M639.5 202v1M196.5 40v2M50.5 72v2M330.5 117v1M58.5 84v2M507.5 157v3M540.5 209v1M96.5 89v1M225.5 72v1M688.5 211v1M504.5 151v2M337.5 124v1M541.5 210v1M742.5 209v1M466.5 125v1M467.5 126v1M199.5 45v2M515.5 174v2M802.5 222v2M149.5 54v2M386.5 128v1M529.5 195v1M820.5 240v1M323.5 108v1M473.5 132v1M5.5 45v1M57.5 83v1M165.5 34v1M624.5 221v1M236.5 85v1M474.5 133v1M6.5 46v1M539.5 208v1M661.5 197v1M145.5 60v2M61.5 89v1M210.5 59v1M314.5 98v1M103.5 81v2M106.5 78v1M584.5 233v1M315.5 99v1M202.5 50v2M573.5 223v1M522.5 186v2M195.5 39v1M235.5 84v1M198.5 44v1M630.5 214v2M574.5 224v1M819.5 239v1M322.5 107v1M518.5 180v1M220.5 68v1M60.5 87v2M968.5 227v1M4.5 44v1M169.5 31v1M221.5 69v1M95.5 90v2M56.5 81v2M532.5 198v2M288.5 95v1M503.5 148v3M506.5 155v2M333.5 120v1M517.5 178v2M157.5 43v1M160.5 39v1M801.5 220v2M521.5 184v2M514.5 172v2M98.5 87v1M187.5 34v1M42.5 60v2M280.5 100v1M209.5 58v1M332.5 119v1M148.5 56v2M344.5 129v1M151.5 51v2M629.5 216v1M638.5 203v1M804.5 225v2M672.5 205v1M641.5 199v2M516.5 176v2M227.5 74v1M339.5 126v1M197.5 42v2M496.5 137v1M201.5 48v2M800.5 218v2M891.5 239v1M520.5 183v1M667.5 202v1M469.5 128v1M822.5 243v1M325.5 110v2M513.5 170v2M823.5 244v1M38.5 53v2M59.5 86v1M144.5 62v1M63.5 91v2M294.5 91v1M542.5 211v1M502.5 146v2M743.5 210v1M803.5 224v1M575.5 225v2M523.5 188v1M298.5 88v1M216.5 64v1M155.5 45v1M468.5 127v1M576.5 227v1M524.5 189v1M807.5 229v2M797.5 212v2M41.5 58v2M530.5 196v1M44.5 63v2M324.5 109v1M147.5 58v1M108.5 76v1M531.5 197v1M37.5 51v2M637.5 204v2M7.5 47v1M226.5 73v1M200.5 47v1M799.5 216v2M203.5 52v1M317.5 101v1M204.5 53v1M512.5 168v2M237.5 86v1M796.5 210v2M825.5 246v2M628.5 217v2M48.5 69v2M112.5 73v1M40.5 56v2M640.5 201v1M62.5 90v1M159.5 40v2M105.5 79v1M211.5 60v1M66.5 95v2M142.5 64v1M316.5 100v1M335.5 122v1M154.5 46v2M100.5 85v1M229.5 76v2M230.5 78v1M43.5 62v1M511.5 166v2M36.5 49v2M162.5 37v1M308.5 91v1M533.5 200v1M795.5 209v1M824.5 245v1M47.5 68v1M327.5 113v1M383.5 130v1M309.5 92v1M534.5 201v1M92.5 94v1M334.5 121v1M192.5 37v1M635.5 207v1M501.5 144v2M805.5 227v1M544.5 213v1M497.5 138v1M723.5 212v1M798.5 214v2M806.5 228v1M577.5 228v1M39.5 55v1M239.5 88v2M787.5 214v1M218.5 66v1M578.5 229v1M779.5 219v1M326.5 112v1M240.5 90v1M51.5 74v1M64.5 93v1M150.5 53v1M153.5 48v2M65.5 94v1M228.5 75v1M114.5 71v1M500.5 142v2M470.5 129v1M107.5 77v1M46.5 66v2M217.5 65v1M525.5 190v1M691.5 213v1M141.5 65v2M206.5 55v1M102.5 83v1M809.5 232v1M311.5 94v2M631.5 213v1M634.5 208v2M536.5 204v1M492.5 134v1M493.5 135v1M543.5 212v1M164.5 35v1M499.5 140v2M168.5 32v1M808.5 231v1M94.5 92v1M510.5 164v2M665.5 200v1M45.5 65v1M205.5 54v1M161.5 38v1M896.5 236v1M535.5 202v2M826.5 248v1M49.5 71v1M329.5 115v2M8.5 48v1M310.5 93v1M827.5 249v1M156.5 44v1M213.5 62v1M224.5 71v1M336.5 123v1M231.5 79v1M97.5 88v1M318.5 102v1M291.5 93v1M238.5 87v1M509.5 162v2M642.5 198v1M382.5 131v1M52.5 75v2M528.5 194v1M295.5 90v1M53.5 77v1M212.5 61v1M971.5 229v1M465.5 124v1M664.5 199v1M498.5 139v1M527.5 192v2M283.5 98v1M140.5 67v1M152.5 50v1M328.5 114v1M101.5 84v1M538.5 206v2M241.5 91v1M461.5 121v1M242.5 92v1M109.5 75v1M464.5 123v1M660.5 196v1M113.5 72v1M320.5 105v1M545.5 214v1M143.5 63v1M321.5 106v1M546.5 215v1M219.5 67v1M471.5 130v1M579.5 230v1M633.5 210v1M3.5 43v1M234.5 83v1M728.5 209v1M472.5 131v1M55.5 80v1M208.5 57v1M312.5 96v1M537.5 205v1M331.5 118v1M170.5 30v1M10.5 50v1M313.5 97v1M696.5 216v1M571.5 221v1M93.5 93v1M163.5 36v1" fill="none" stroke="#1E90FF" stroke-width="1"/>
<rect x="3" y="6" width="971" height="2" fill="#FF4500"/>
<rect x="3" y="61" width="971" height="2" fill="#008000"/>
<rect x="3" y="116" width="971" height="2" fill="#9932CC"/>
<rect x="3" y="176" width="971" height="2" fill="#9932CC"/>
<rect x="3" y="182" width="971" height="2" fill="#00BFFF"/>
<rect x="3" y="272" width="971" height="2" fill="#9932CC"/>
<polygon points="119.5,28.5 126.5,28.5 126.5,38.5 130.5,38.5 123,46.5 115.5,38.5 119.5,38.5" fill="none" stroke="#0000FF" stroke-width="1"/>
<polygon points="455.5,85.5 462.5,85.5 462.5,95.5 466.5,95.5 459,103.5 451.5,95.5 455.5,95.5" fill="none" stroke="#0000FF" stroke-width="1"/>
<polygon points="647.5,153.5 654.5,153.5 654.5,163.5 658.5,163.5 651,171.5 643.5,163.5 647.5,163.5" fill="none" stroke="#0000FF" stroke-width="1"/>
</g>
<g clip-path="url(#c2)">
<line x1="3" y1="314.5" x2="974" y2="314.5" stroke="#FF4500" stroke-width="1" stroke-dasharray="9 3 3 3 3 3"/>
<line x1="4" y1="352.5" x2="974" y2="352.5" stroke="#00BFFF" stroke-width="1" stroke-dasharray="3 3"/>
<path d="M399 348.5h2M187 310.5h2M401 349.5h2M854 349.5h2M787 326.5h5M253 361.5h2M266 361.5h2M371 361.5h2M610 361.5h4M408 351.5h5M426 351.5h2M848 351.5h4M643 331.5h2M727 331.5h2M736 331.5h2M296 333.5h4M448 333.5h2M648 333.5h2M722 333.5h3M251 362.5h2M608 362.5h2M342 375.5h2M257 359.5h2M261 359.5h3M270 359.5h2M376 359.5h2M618 359.5h2M130 339.5h3M685 339.5h2M138 336.5h2M208 336.5h2M213 336.5h3M438 336.5h4M715 336.5h2M323 368.5h2M355 368.5h2M834 368.5h2M210 335.5h3M442 335.5h3M638 335.5h2M652 335.5h2M717 335.5h3M413 352.5h3M424 352.5h2M843 352.5h5M906 318.5h2M901 320.5h3M960 320.5h2M659 340.5h5M687 340.5h2M747 340.5h11M395 346.5h2M697 346.5h2M700 346.5h2M669 342.5h2M678 342.5h2M762 342.5h6M336 372.5h4M259 358.5h2M378 358.5h2M812 358.5h2M874 358.5h2M913 314.5h2M123 337.5h3M136 337.5h2M205 337.5h3M216 337.5h2M435 337.5h3M19 324.5h3M291 332.5h5M450 332.5h2M645 332.5h3M725 332.5h2M738 332.5h2M792 325.5h4M671 343.5h2M692 343.5h2M705 343.5h2M255 360.5h2M264 360.5h2M268 360.5h2M373 360.5h3M614 360.5h4M899 321.5h2M957 321.5h3M58 400.5h2M483 344.5h5M673 344.5h2M694 344.5h2M558 384.5h2M566 384.5h2M126 338.5h4M133 338.5h3M203 338.5h2M218 338.5h2M656 338.5h2M683 338.5h2M712 338.5h2M316 364.5h2M603 364.5h2M926 302.5h2M729 330.5h2M733 330.5h3M780 330.5h2M83 369.5h2M325 369.5h3M357 369.5h2M385 354.5h2M418 354.5h3M273 357.5h2M380 357.5h2M872 357.5h2M556 385.5h2M664 341.5h5M689 341.5h2M708 341.5h2M758 341.5h4M768 341.5h4M539 395.5h9M330 371.5h6M361 371.5h2M397 347.5h2M857 347.5h2M90 376.5h2M785 327.5h2M910 316.5h2M230 356.5h2M382 356.5h2M869 356.5h3M908 317.5h2M488 345.5h4M702 345.5h2M522 392.5h2M416 353.5h2M421 353.5h3M816 355.5h2M867 355.5h2M321 367.5h2M944 303.5h2M936 299.5h4M524 391.5h2M328 370.5h2M359 370.5h2M731 329.5h2M782 329.5h2M193 313.5h2M605 363.5h3M904 319.5h2M962 319.5h2M940 300.5h2M318 365.5h2M830 365.5h2M445 334.5h3M650 334.5h2M720 334.5h2M515 394.5h3M390 350.5h2M403 350.5h5M852 350.5h2M163 290.5h5M561 382.5h2M159 292.5h2M22 323.5h4M528 388.5h2M26 322.5h2M955 322.5h2M931 298.5h5M191 312.5h2M518 393.5h4M189 311.5h2M161 291.5h2M157 293.5h2M168 289.5h4M155 294.5h2M589.5 382v2M818.5 354v1M203.5 337v1M431.5 344v1M918.5 310v1M142.5 325v3M967.5 323v2M72.5 399v4M632.5 342v2M503.5 368v3M196.5 316v3M895.5 326v2M53.5 406v2M88.5 374v1M236.5 361v1M56.5 403v1M17.5 331v4M279.5 350v1M309.5 351v2M36.5 350v6M551.5 390v2M480.5 349v2M112.5 331v1M890.5 333v2M115.5 327v1M237.5 362v2M5.5 366v1M593.5 375v2M811.5 359v1M624.5 353v1M68.5 413v4M199.5 325v3M305.5 343v2M585.5 389v1M461.5 344v1M116.5 328v1M840.5 358v2M513.5 391v1M302.5 338v2M39.5 370v6M286.5 339v2M366.5 368v1M16.5 335v4M369.5 364v1M35.5 345v5M13.5 347v4M154.5 295v2M468.5 352v1M244.5 369v1M64.5 410v3M898.5 322v2M38.5 363v7M100.5 351v2M784.5 328v1M364.5 370v2M143.5 321v4M887.5 339v2M282.5 345v2M806.5 352v1M573.5 390v2M796.5 327v3M554.5 387v1M777.5 333v2M12.5 351v4M512.5 390v1M502.5 364v4M150.5 303v2M41.5 383v7M966.5 322v1M75.5 389v3M475.5 359v1M32.5 336v3M574.5 392v1M87.5 372v2M802.5 344v3M810.5 357v2M308.5 349v2M696.5 345v1M45.5 401v2M863.5 350v2M146.5 311v4M289.5 335v1M772.5 340v1M301.5 336v2M247.5 366v1M198.5 322v3M67.5 417v2M952.5 315v2M824.5 359v1M479.5 351v2M856.5 348v1M742.5 335v1M71.5 403v3M825.5 360v1M494.5 349v1M628.5 348v2M453.5 334v2M704.5 344v1M181.5 303v1M202.5 334v3M925.5 303v1M96.5 361v3M111.5 332v2M28.5 324v3M195.5 314v2M592.5 377v2M623.5 354v2M929.5 300v1M59.5 399v1M581.5 395v1M70.5 406v4M584.5 390v2M460.5 343v1M954.5 319v2M8.5 361v2M239.5 365v1M106.5 339v2M304.5 341v2M809.5 356v1M955.5 321v1M307.5 347v2M95.5 364v3M118.5 331v1M535.5 390v2M153.5 297v2M44.5 400v1M862.5 349v1M37.5 356v7M588.5 384v2M300.5 334v2M505.5 375v3M99.5 353v2M119.5 332v1M66.5 415v2M15.5 339v4M600.5 367v1M176.5 296v2M141.5 328v3M349.5 376v1M179.5 301v1M352.5 372v1M30.5 330v3M145.5 315v3M278.5 351v2M886.5 341v2M889.5 335v2M180.5 302v1M680.5 341v1M114.5 328v2M40.5 376v7M798.5 333v3M94.5 367v3M149.5 305v2M63.5 408v2M387.5 353v1M452.5 333v1M504.5 371v4M839.5 360v2M34.5 342v3M642.5 332v1M285.5 341v1M434.5 338v2M882.5 348v2M144.5 318v3M635.5 338v1M478.5 353v2M19.5 325v2M82.5 370v3M832.5 366v1M951.5 313v2M970.5 327v1M920.5 308v1M493.5 347v2M11.5 355v3M501.5 361v3M31.5 333v3M224.5 347v2M526.5 390v1M894.5 328v1M897.5 324v1M843.5 353v1M18.5 327v4M98.5 355v3M530.5 387v1M55.5 404v1M79.5 378v3M626.5 351v1M238.5 364v1M249.5 364v1M572.5 389v1M201.5 331v3M892.5 330v2M33.5 339v3M314.5 361v2M83.5 368v1M595.5 372v1M93.5 370v3M968.5 325v1M587.5 386v1M288.5 336v2M534.5 389v1M14.5 343v4M140.5 331v4M74.5 392v4M97.5 358v3M463.5 346v2M969.5 326v1M348.5 377v2M43.5 396v4M801.5 341v3M246.5 367v1M78.5 381v3M710.5 340v1M950.5 311v2M888.5 337v2M227.5 353v1M363.5 372v1M500.5 357v4M47.5 404v1M877.5 355v1M197.5 319v3M591.5 379v1M69.5 410v3M838.5 362v2M470.5 354v1M797.5 330v3M344.5 376v1M73.5 396v3M744.5 337v1M62.5 405v3M924.5 304v1M553.5 388v1M482.5 345v2M183.5 305v2M497.5 352v2M634.5 339v2M152.5 299v2M276.5 354v2M548.5 394v1M774.5 337v1M241.5 367v2M815.5 356v1M575.5 393v1M953.5 317v2M682.5 339v1M462.5 345v1M117.5 329v2M148.5 307v2M514.5 392v2M880.5 351v1M883.5 347v1M800.5 338v3M714.5 337v1M864.5 352v1M949.5 309v2M223.5 345v2M506.5 378v4M675.5 345v1M537.5 393v1M121.5 334v2M340.5 373v1M865.5 353v1M29.5 327v3M743.5 336v1M92.5 373v3M637.5 336v1M826.5 361v1M477.5 355v2M594.5 373v2M147.5 309v2M42.5 390v6M105.5 341v2M81.5 373v2M108.5 336v2M284.5 342v2M827.5 362v1M641.5 333v1M454.5 336v1M182.5 304v1M10.5 358v2M915.5 313v1M455.5 337v1M602.5 365v1M536.5 392v1M226.5 351v2M351.5 373v2M590.5 380v2M876.5 356v2M842.5 354v2M46.5 403v1M310.5 353v2M80.5 375v3M104.5 343v2M819.5 353v1M389.5 351v1M481.5 347v2M891.5 332v1M222.5 343v2M151.5 301v2M120.5 333v1M275.5 356v1M495.5 350v1M946.5 304v1M393.5 348v1M586.5 387v2M496.5 351v1M499.5 355v2M625.5 352v1M248.5 365v1M77.5 384v2M922.5 306v1M313.5 359v2M354.5 369v2M61.5 403v2M879.5 352v2M804.5 349v2M240.5 366v1M200.5 328v3M620.5 358v1M837.5 364v2M577.5 395v2M225.5 349v2M578.5 397v1M76.5 386v3M833.5 367v1M465.5 349v1M971.5 328v1M57.5 401v2M430.5 345v2M49.5 406v2M563.5 381v1M597.5 370v1M232.5 357v1M52.5 408v1M4.5 367v2M233.5 358v1M287.5 338v1M841.5 356v2M370.5 362v2M457.5 339v2M185.5 308v1M658.5 339v1M795.5 326v1M312.5 357v2M803.5 347v2M458.5 341v1M91.5 377v1M365.5 369v1M464.5 348v1M555.5 386v1M243.5 370v1M948.5 307v2M476.5 357v2M799.5 336v2M580.5 396v2M917.5 311v1M174.5 293v2M866.5 354v1M320.5 366v1M281.5 347v1M498.5 354v1M550.5 392v1M773.5 338v2M290.5 333v2M776.5 335v1M471.5 355v1M345.5 377v1M103.5 345v2M836.5 366v2M828.5 363v1M472.5 356v1M60.5 401v2M315.5 363v1M184.5 307v1M346.5 378v1M746.5 339v1M829.5 364v1M677.5 343v1M384.5 355v1M509.5 386v1M122.5 336v1M228.5 354v1M859.5 346v1M388.5 352v1M48.5 405v1M636.5 337v1M172.5 290v2M221.5 341v2M947.5 305v2M433.5 340v2M107.5 338v1M631.5 344v1M779.5 331v1M745.5 338v1M821.5 355v1M173.5 292v1M928.5 301v1M654.5 336v1M27.5 323v1M569.5 386v1M655.5 337v1M7.5 363v1M456.5 338v1M921.5 307v1M527.5 389v1M508.5 384v2M311.5 355v2M353.5 371v1M429.5 347v2M681.5 340v1M242.5 369v1M368.5 365v1M576.5 394v1M599.5 368v1M885.5 343v2M820.5 354v1M277.5 353v1M538.5 394v1M392.5 349v1M110.5 334v1M341.5 374v1M627.5 350v1M250.5 363v1M707.5 342v1M102.5 347v2M699.5 347v1M583.5 392v1M220.5 339v2M596.5 371v1M711.5 339v1M565.5 383v1M622.5 356v1M568.5 385v1M507.5 382v2M235.5 360v1M805.5 351v1M531.5 386v1M511.5 388v2M912.5 315v1M630.5 345v2M893.5 329v1M916.5 312v1M466.5 350v1M113.5 330v1M51.5 409v1M3.5 369v1M549.5 393v1M467.5 351v1M741.5 334v1M428.5 349v2M691.5 342v1M367.5 366v2M881.5 350v1M473.5 357v1M234.5 359v1M85.5 370v1M432.5 342v2M474.5 358v1M919.5 309v1M86.5 371v1M896.5 325v1M101.5 349v2M942.5 301v1M459.5 342v1M579.5 398v1M280.5 348v2M582.5 393v2M740.5 333v1M6.5 364v2M943.5 302v1M564.5 382v1M50.5 408v1M835.5 369v1M552.5 389v1M775.5 336v1M54.5 405v1M175.5 295v1M884.5 345v2M245.5 368v1M676.5 344v1M186.5 309v1M394.5 347v1M272.5 358v1M964.5 320v1M807.5 353v2M965.5 321v1M808.5 355v1M306.5 345v2M930.5 299v1M778.5 332v1M633.5 341v1M861.5 348v1M89.5 375v1M229.5 355v1M65.5 413v2M823.5 357v2M923.5 305v1M178.5 299v2M303.5 340v1M139.5 335v1M601.5 366v1M347.5 379v1M350.5 375v1M598.5 369v1M570.5 387v1M814.5 357v1M571.5 388v1M510.5 387v1M532.5 387v1M629.5 347v1M860.5 347v1M283.5 344v1M533.5 388v1M640.5 334v1M109.5 335v1M621.5 357v1M822.5 356v1M177.5 298v1M9.5 360v1M560.5 383v1M878.5 354v1M492.5 346v1M469.5 353v1" fill="none" stroke="#1E90FF" stroke-width="1"/>
</g>
<text filter="url(#cr)" transform="translate(7,295) scale(1,1)" fill="#0000FF" stroke="#0000FF" stroke-width="0" font-size="9" textLength="72" lengthAdjust="spacingAndGlyphs">CCI(50) -27.8506</text>
<g clip-path="url(#c3)">
<line x1="4" y1="463.5" x2="974" y2="463.5" stroke="#00BFFF" stroke-width="1" stroke-dasharray="3 3"/>
<line x1="3" y1="487.5" x2="974" y2="487.5" stroke="#FF4500" stroke-width="1" stroke-dasharray="9 3 3 3 3 3"/>
<line x1="4" y1="512.5" x2="974" y2="512.5" stroke="#00BFFF" stroke-width="1" stroke-dasharray="3 3"/>
<path d="M721 486.5h2M46 530.5h2M147 449.5h3M159 449.5h2M137 475.5h2M661 475.5h2M134 477.5h2M187 477.5h2M665 477.5h2M787 468.5h9M22 497.5h4M382 497.5h2M483 497.5h2M852 497.5h2M403 491.5h10M611 491.5h9M254 511.5h4M264 511.5h4M755 511.5h2M205 507.5h2M557 507.5h2M570 507.5h2M207 506.5h2M214 506.5h2M559 506.5h2M568 506.5h2M150 448.5h4M157 448.5h2M59 520.5h2M237 520.5h2M315 520.5h2M538 520.5h2M833 520.5h2M154 447.5h3M435 447.5h2M88 504.5h2M563 504.5h2M203 508.5h2M217 508.5h2M270 508.5h2M555 508.5h2M362 514.5h2M749 514.5h2M762 514.5h4M65 523.5h2M321 523.5h2M828 523.5h2M227 519.5h10M534 519.5h4M540 519.5h2M388 492.5h2M413 492.5h2M609 492.5h2M258 510.5h6M552 510.5h2M747 515.5h2M596 499.5h2M843 499.5h5M872 499.5h4M161 450.5h2M84 501.5h2M371 501.5h5M63 522.5h2M241 522.5h2M319 522.5h2M830 522.5h2M907 451.5h2M49 528.5h2M61 521.5h2M239 521.5h2M317 521.5h2M603 495.5h2M291 484.5h2M960 484.5h4M330 526.5h18M43 531.5h3M164 452.5h2M909 452.5h2M809 535.5h3M110 476.5h2M663 476.5h2M358 513.5h4M548 513.5h2M582 513.5h2M751 513.5h2M760 513.5h2M766 513.5h4M395 487.5h2M719 487.5h2M376 500.5h4M867 500.5h5M659 474.5h2M936 461.5h2M132 478.5h2M189 478.5h2M26 496.5h2M601 496.5h2M397 488.5h2M717 488.5h2M415 493.5h2M607 493.5h2M932 458.5h2M392 489.5h2M399 489.5h2M715 489.5h2M443 456.5h3M926 456.5h4M297 481.5h3M293 483.5h2M955 483.5h5M123 480.5h5M193 480.5h2M682 480.5h2M417 494.5h2M605 494.5h2M856 494.5h2M326 525.5h4M474 533.5h2M806 533.5h2M90 505.5h2M209 505.5h2M212 505.5h2M561 505.5h2M565 505.5h3M168 455.5h2M446 455.5h4M915 455.5h11M911 453.5h2M804 532.5h2M19 498.5h3M598 498.5h2M848 498.5h4M251 512.5h3M355 512.5h3M753 512.5h2M757 512.5h3M770 512.5h2M401 490.5h2M819 517.5h2M544 516.5h2M295 482.5h2M726 482.5h2M531 518.5h3M54 524.5h2M323 524.5h3M450 454.5h2M913 454.5h2M942 466.5h2M128 479.5h4M191 479.5h2M930 457.5h2M642 436.5h2M638 439.5h2M507 558.5h2M516.5 541v2M426.5 486v1M181.5 471v1M202.5 503v4M505.5 550v4M863.5 496v1M802.5 520v8M799.5 496v8M637.5 440v1M658.5 471v2M648.5 447v3M195.5 481v2M112.5 475v1M890.5 476v2M80.5 504v2M741.5 497v3M143.5 460v4M813.5 530v3M479.5 514v4M659.5 473v1M776.5 490v4M641.5 437v1M670.5 482v1M723.5 485v1M461.5 488v4M305.5 495v3M147.5 450v1M365.5 510v2M796.5 472v8M687.5 487v2M95.5 496v3M491.5 506v2M31.5 503v2M692.5 497v2M431.5 464v4M87.5 503v1M700.5 509v2M464.5 499v3M703.5 505v2M315.5 519v1M221.5 511v2M966.5 488v2M286.5 491v2M644.5 437v2M738.5 490v2M142.5 464v3M633.5 447v3M745.5 508v3M76.5 510v2M940.5 464v1M3.5 535v2M100.5 487v1M645.5 439v3M301.5 484v3M176.5 464v2M430.5 468v5M812.5 533v2M478.5 518v5M179.5 469v1M520.5 533v2M772.5 506v4M784.5 472v1M832.5 521v1M281.5 498v1M198.5 490v3M771.5 510v2M651.5 455v3M290.5 485v2M498.5 523v2M180.5 470v1M511.5 551v2M201.5 500v3M798.5 488v8M8.5 525v2M840.5 506v2M471.5 522v3M589.5 507v1M501.5 533v4M483.5 496v1M483.5 498v1M632.5 450v3M577.5 514v1M307.5 500v3M885.5 486v2M504.5 546v4M34.5 509v2M96.5 494v2M435.5 446v1M435.5 448v1M37.5 515v3M438.5 450v1M655.5 464v3M352.5 517v2M18.5 500v2M439.5 451v1M7.5 527v2M688.5 489v2M824.5 521v1M30.5 501v2M490.5 505v1M691.5 495v2M103.5 483v2M543.5 517v1M970.5 494v2M734.5 483v2M314.5 517v2M220.5 510v1M775.5 494v4M41.5 526v3M52.5 526v1M620.5 487v3M453.5 460v3M744.5 505v3M547.5 514v1M473.5 528v3M894.5 468v2M348.5 524v2M685.5 483v2M56.5 523v1M497.5 520v3M906.5 452v1M141.5 467v3M592.5 503v1M801.5 512v8M855.5 495v1M15.5 508v2M457.5 474v3M795.5 469v3M460.5 484v4M364.5 512v2M519.5 535v2M83.5 500v1M94.5 499v2M500.5 529v4M859.5 492v1M951.5 476v2M935.5 460v1M387.5 493v1M493.5 510v3M33.5 507v2M681.5 481v2M711.5 494v2M954.5 481v2M839.5 508v3M118.5 475v1M434.5 449v5M72.5 516v2M482.5 499v5M947.5 470v1M463.5 495v4M580.5 515v1M706.5 501v2M99.5 488v2M391.5 490v1M380.5 499v1M14.5 510v3M673.5 486v1M737.5 488v2M67.5 524v1M506.5 554v4M459.5 481v3M783.5 473v2M898.5 460v2M515.5 543v2M425.5 487v2M269.5 509v1M866.5 499v1M384.5 496v1M289.5 487v1M467.5 510v3M584.5 512v1M624.5 475v3M250.5 513v2M429.5 473v5M889.5 478v2M477.5 523v5M114.5 473v1M774.5 498v4M311.5 510v2M197.5 487v3M284.5 494v2M40.5 523v3M628.5 463v3M452.5 456v4M881.5 493v1M576.5 513v1M433.5 454v5M523.5 528v1M684.5 481v2M725.5 483v1M422.5 491v1M107.5 479v1M800.5 504v8M779.5 479v3M946.5 469v1M600.5 497v1M300.5 482v2M466.5 506v4M949.5 473v2M729.5 480v1M623.5 478v3M668.5 479v2M950.5 475v1M145.5 454v3M823.5 520v1M102.5 485v1M216.5 507v1M489.5 503v2M456.5 470v4M657.5 469v2M492.5 508v2M811.5 536v1M964.5 485v2M740.5 494v3M672.5 485v1M786.5 469v2M469.5 516v3M441.5 453v2M901.5 457v1M631.5 453v4M481.5 504v5M893.5 470v2M304.5 492v3M965.5 487v1M211.5 504v1M733.5 481v2M368.5 506v1M222.5 513v1M736.5 486v2M968.5 491v2M140.5 470v3M273.5 506v1M686.5 485v2M654.5 462v2M884.5 488v2M503.5 541v5M676.5 488v1M223.5 514v1M144.5 457v3M70.5 519v2M842.5 501v2M245.5 520v1M79.5 506v1M499.5 525v4M82.5 501v2M310.5 507v3M743.5 503v2M636.5 441v1M6.5 529v2M838.5 511v2M117.5 474v1M634.5 444v3M797.5 480v8M953.5 479v2M200.5 497v3M514.5 545v2M470.5 519v3M455.5 467v3M182.5 472v1M714.5 490v2M306.5 498v2M276.5 503v1M476.5 528v5M196.5 483v4M778.5 482v4M865.5 498v1M876.5 498v1M591.5 504v2M428.5 478v5M888.5 480v2M440.5 452v1M709.5 497v1M29.5 499v2M712.5 493v1M313.5 515v2M732.5 479v2M803.5 528v4M510.5 553v2M93.5 501v2M622.5 481v3M462.5 492v3M653.5 460v2M502.5 537v4M643.5 435v1M781.5 476v1M526.5 524v1M13.5 513v3M518.5 537v2M98.5 490v2M351.5 519v1M17.5 502v3M465.5 502v4M496.5 518v2M480.5 509v5M509.5 555v2M649.5 450v3M773.5 502v4M386.5 494v1M105.5 481v1M892.5 472v2M367.5 507v2M671.5 483v2M139.5 473v2M283.5 496v1M837.5 513v3M390.5 491v1M674.5 487v2M705.5 503v1M883.5 490v2M32.5 505v2M746.5 511v3M475.5 534v2M51.5 527v1M656.5 467v2M16.5 505v3M646.5 442v3M841.5 503v3M43.5 532v1M967.5 490v1M244.5 521v2M739.5 492v2M468.5 513v3M675.5 489v1M78.5 507v2M424.5 489v1M747.5 514v1M28.5 497v2M689.5 491v2M312.5 512v3M529.5 520v2M626.5 469v3M458.5 477v4M971.5 496v1M280.5 499v1M5.5 531v2M742.5 500v3M630.5 457v3M170.5 456v1M419.5 495v1M513.5 547v2M724.5 484v1M39.5 521v2M777.5 486v4M472.5 525v3M586.5 510v1M903.5 455v1M432.5 459v5M621.5 484v3M578.5 515v1M683.5 479v1M203.5 507v1M948.5 471v2M495.5 515v3M625.5 472v3M861.5 494v1M579.5 516v1M708.5 498v2M299.5 480v1M697.5 507v2M952.5 478v1M629.5 460v3M58.5 521v1M69.5 521v1M678.5 485v1M427.5 483v3M199.5 493v4M825.5 522v1M454.5 463v4M735.5 485v1M525.5 525v2M12.5 516v2M880.5 494v1M120.5 477v1M109.5 477v1M818.5 518v2M350.5 520v2M551.5 511v1M731.5 478v1M146.5 451v3M225.5 516v2M38.5 518v3M174.5 461v2M278.5 501v1M728.5 481v1M878.5 496v1M887.5 482v2M354.5 513v2M11.5 518v3M836.5 516v2M860.5 493v1M817.5 520v3M275.5 504v1M119.5 476v1M780.5 477v2M696.5 505v2M370.5 502v2M590.5 506v1M528.5 522v1M247.5 517v2M92.5 503v2M166.5 453v1M517.5 539v2M442.5 455v1M81.5 503v1M42.5 529v2M652.5 458v2M302.5 487v3M891.5 474v2M172.5 458v2M224.5 515v1M173.5 460v1M381.5 498v1M68.5 522v2M309.5 505v2M104.5 482v1M699.5 511v1M785.5 471v1M451.5 455v1M282.5 497v1M494.5 513v2M512.5 549v2M243.5 523v1M969.5 493v1M474.5 531v2M886.5 484v2M353.5 515v2M508.5 557v1M640.5 438v1M897.5 462v2M53.5 525v1M808.5 534v1M285.5 493v1M698.5 509v2M183.5 473v1M308.5 503v2M627.5 466v3M882.5 492v1M677.5 486v2M647.5 445v2M695.5 503v2M349.5 522v2M593.5 502v1M542.5 518v1M507.5 559v2M421.5 492v2M75.5 512v1M10.5 521v2M588.5 508v1M905.5 453v1M816.5 523v2M854.5 496v1M277.5 502v1M581.5 514v1M707.5 500v1M680.5 483v1M585.5 511v1M91.5 506v1M19.5 499v1M573.5 509v1M819.5 516v1M702.5 507v1M815.5 525v3M288.5 488v2M619.5 490v1M694.5 501v2M546.5 515v1M862.5 495v1M843.5 500v1M246.5 519v1M486.5 500v1M550.5 512v1M730.5 479v1M826.5 523v1M303.5 490v2M122.5 479v1M554.5 509v1M835.5 518v2M106.5 480v1M858.5 493v1M827.5 524v1M171.5 457v1M175.5 463v1M101.5 486v1M710.5 496v1M782.5 475v1M394.5 488v1M527.5 523v1M900.5 458v1M268.5 510v1M71.5 518v1M249.5 515v1M522.5 529v2M136.5 476v1M485.5 498v2M669.5 481v1M97.5 492v2M86.5 502v1M635.5 442v2M938.5 462v1M113.5 474v1M121.5 478v1M896.5 464v2M939.5 463v1M226.5 518v1M572.5 508v1M877.5 497v1M178.5 467v2M595.5 500v1M48.5 529v1M713.5 492v1M650.5 453v2M74.5 513v2M36.5 513v2M530.5 519v1M185.5 475v1M437.5 448v2M9.5 523v2M167.5 454v1M272.5 507v1M186.5 476v1M693.5 499v2M587.5 509v1M690.5 493v2M904.5 454v1M219.5 509v1M385.5 495v1M679.5 484v1M814.5 528v2M177.5 466v1M521.5 531v2M575.5 511v2M701.5 508v1M934.5 459v1M184.5 474v1M945.5 468v1M163.5 451v1M420.5 494v1M423.5 490v1M4.5 533v2M821.5 518v1M895.5 466v2M35.5 511v2M667.5 478v1M279.5 500v1M822.5 519v1M366.5 509v1M369.5 504v2M704.5 504v1M287.5 490v1M57.5 522v1M77.5 509v1M899.5 459v1M115.5 472v1M248.5 516v1M944.5 467v1M116.5 473v1M879.5 495v1M108.5 478v1M487.5 501v1M864.5 497v1M488.5 502v1M902.5 456v1M594.5 501v1M941.5 465v1M574.5 510v1M73.5 515v1M274.5 505v1M524.5 527v1" fill="none" stroke="#FF4500" stroke-width="1"/>
</g>
<text filter="url(#cr)" transform="translate(7,441) scale(1,1)" fill="#0000FF" stroke="#0000FF" stroke-width="0" font-size="9" textLength="73" lengthAdjust="spacingAndGlyphs">CCI(14) -23.6694</text>
<text filter="url(#cr)" transform="translate(6,562) scale(1,1)" fill="#0000FF" stroke="#0000FF" stroke-width="0" font-size="9" textLength="242" lengthAdjust="spacingAndGlyphs">XTB-Trader, © 2001-2011 MetaQuotes Software Corp.</text>
<rect x="2" y="2" width="973" height="1" fill="#0000FF"/>
<rect x="2" y="279" width="973" height="1" fill="#0000FF"/>
<rect x="2" y="2" width="1" height="278" fill="#0000FF"/>
<rect x="974" y="2" width="1" height="278" fill="#0000FF"/>
<rect x="2" y="281" width="973" height="1" fill="#0000FF"/>
<rect x="2" y="425" width="973" height="1" fill="#0000FF"/>
<rect x="2" y="281" width="1" height="145" fill="#0000FF"/>
<rect x="974" y="281" width="1" height="145" fill="#0000FF"/>
<rect x="2" y="427" width="973" height="1" fill="#0000FF"/>
<rect x="2" y="567" width="973" height="1" fill="#0000FF"/>
<rect x="2" y="427" width="1" height="141" fill="#0000FF"/>
<rect x="974" y="427" width="1" height="141" fill="#0000FF"/>
<rect x="974" y="2" width="1" height="566" fill="#0000FF"/>
<rect x="975" y="15" width="2" height="1" fill="#0000FF"/>
<text filter="url(#cr)" transform="translate(980,18) scale(1,1)" fill="#0000FF" stroke="#0000FF" stroke-width="0" font-size="9" textLength="27.5" lengthAdjust="spacingAndGlyphs">6742.5</text>
<rect x="975" y="48" width="2" height="1" fill="#0000FF"/>
<text filter="url(#cr)" transform="translate(980,51) scale(1,1)" fill="#0000FF" stroke="#0000FF" stroke-width="0" font-size="9" textLength="27.5" lengthAdjust="spacingAndGlyphs">6732.5</text>
<rect x="975" y="81" width="2" height="1" fill="#0000FF"/>
<text filter="url(#cr)" transform="translate(980,84) scale(1,1)" fill="#0000FF" stroke="#0000FF" stroke-width="0" font-size="9" textLength="27.5" lengthAdjust="spacingAndGlyphs">6722.5</text>
<rect x="975" y="114" width="2" height="1" fill="#0000FF"/>
<text filter="url(#cr)" transform="translate(980,117) scale(1,1)" fill="#0000FF" stroke="#0000FF" stroke-width="0" font-size="9" textLength="27.5" lengthAdjust="spacingAndGlyphs">6712.5</text>
<rect x="975" y="146" width="2" height="1" fill="#0000FF"/>
<text filter="url(#cr)" transform="translate(980,149) scale(1,1)" fill="#0000FF" stroke="#0000FF" stroke-width="0" font-size="9" textLength="27.5" lengthAdjust="spacingAndGlyphs">6703.0</text>
<rect x="975" y="179" width="2" height="1" fill="#0000FF"/>
<text filter="url(#cr)" transform="translate(980,182) scale(1,1)" fill="#0000FF" stroke="#0000FF" stroke-width="0" font-size="9" textLength="27.5" lengthAdjust="spacingAndGlyphs">6693.0</text>
<rect x="975" y="212" width="2" height="1" fill="#0000FF"/>
<text filter="url(#cr)" transform="translate(980,215) scale(1,1)" fill="#0000FF" stroke="#0000FF" stroke-width="0" font-size="9" textLength="27.5" lengthAdjust="spacingAndGlyphs">6683.0</text>
<rect x="975" y="245" width="2" height="1" fill="#0000FF"/>
<text filter="url(#cr)" transform="translate(980,248) scale(1,1)" fill="#0000FF" stroke="#0000FF" stroke-width="0" font-size="9" textLength="27.5" lengthAdjust="spacingAndGlyphs">6673.0</text>
<clipPath id="cb"><rect x="975" y="270" width="37" height="10"/></clipPath>
<g clip-path="url(#cb)">
<rect x="975" y="278" width="2" height="1" fill="#0000FF"/>
<text filter="url(#cr)" transform="translate(980,281) scale(1,1)" fill="#0000FF" stroke="#0000FF" stroke-width="0" font-size="9" textLength="27.5" lengthAdjust="spacingAndGlyphs">6663.0</text>
</g>
<rect x="977" y="177" width="34" height="11" fill="#00BFFF"/>
<text filter="url(#cr)" transform="translate(980,186) scale(1,1)" fill="#FFFFFF" stroke="#FFFFFF" stroke-width="0" font-size="9" textLength="27.5" lengthAdjust="spacingAndGlyphs">6691.6</text>
<rect x="977" y="171" width="34" height="11" fill="#9932CC"/>
<text filter="url(#cr)" transform="translate(980,180) scale(1,1)" fill="#FFFFFF" stroke="#FFFFFF" stroke-width="0" font-size="9" textLength="27.5" lengthAdjust="spacingAndGlyphs">6693.6</text>
<rect x="977" y="3" width="34" height="9" fill="#FF4500"/>
<text filter="url(#cr)" transform="translate(980,10) scale(1,1)" fill="#FFFFFF" stroke="#FFFFFF" stroke-width="0" font-size="9" textLength="27.5" lengthAdjust="spacingAndGlyphs">6744.9</text>
<rect x="977" y="56" width="34" height="11" fill="#008000"/>
<text filter="url(#cr)" transform="translate(980,65) scale(1,1)" fill="#FFFFFF" stroke="#FFFFFF" stroke-width="0" font-size="9" textLength="27.5" lengthAdjust="spacingAndGlyphs">6728.3</text>
<rect x="977" y="111" width="34" height="11" fill="#9932CC"/>
<text filter="url(#cr)" transform="translate(980,120) scale(1,1)" fill="#FFFFFF" stroke="#FFFFFF" stroke-width="0" font-size="9" textLength="27.5" lengthAdjust="spacingAndGlyphs">6711.8</text>
<rect x="977" y="267" width="34" height="11" fill="#9932CC"/>
<text filter="url(#cr)" transform="translate(980,276) scale(1,1)" fill="#FFFFFF" stroke="#FFFFFF" stroke-width="0" font-size="9" textLength="27.5" lengthAdjust="spacingAndGlyphs">6664.8</text>
<text filter="url(#cr)" transform="translate(978,292) scale(1,1)" fill="#0000FF" stroke="#0000FF" stroke-width="0" font-size="9" textLength="32" lengthAdjust="spacingAndGlyphs">80.6408</text>
<text filter="url(#cr)" transform="translate(978,422) scale(1,1)" fill="#0000FF" stroke="#0000FF" stroke-width="0" font-size="9" textLength="36" lengthAdjust="spacingAndGlyphs">-288.592</text>
<rect x="975" y="424" width="1" height="1" fill="#0000FF"/>
<rect x="975" y="429" width="1" height="1" fill="#0000FF"/>
<rect x="975" y="566" width="1" height="1" fill="#0000FF"/>
<text filter="url(#cr)" transform="translate(977,355) scale(1,1)" fill="#0000FF" stroke="#0000FF" stroke-width="0" font-size="9" textLength="17" lengthAdjust="spacingAndGlyphs">-100</text>
<rect x="977" y="308" width="22" height="11" fill="#FF4500"/>
<text filter="url(#cr)" transform="translate(980,317) scale(1,1)" fill="#FFFFFF" stroke="#FFFFFF" stroke-width="0" font-size="9" textLength="16" lengthAdjust="spacingAndGlyphs">-0.4</text>
<rect x="975" y="314" width="1" height="1" fill="#0000FF"/>
<rect x="975" y="283" width="1" height="1" fill="#0000FF"/>
<text filter="url(#cr)" transform="translate(978,438) scale(1,1)" fill="#0000FF" stroke="#0000FF" stroke-width="0" font-size="9" textLength="38" lengthAdjust="spacingAndGlyphs">241.2575</text>
<text filter="url(#cr)" transform="translate(978,466) scale(1,1)" fill="#0000FF" stroke="#0000FF" stroke-width="0" font-size="9" textLength="13.5" lengthAdjust="spacingAndGlyphs">100</text>
<text filter="url(#cr)" transform="translate(977,515) scale(1,1)" fill="#0000FF" stroke="#0000FF" stroke-width="0" font-size="9" textLength="17" lengthAdjust="spacingAndGlyphs">-100</text>
<text filter="url(#cr)" transform="translate(978,564) scale(1,1)" fill="#0000FF" stroke="#0000FF" stroke-width="0" font-size="9" textLength="36" lengthAdjust="spacingAndGlyphs">-322.078</text>
<rect x="977" y="481" width="19" height="11" fill="#FF4500"/>
<text filter="url(#cr)" transform="translate(980,490) scale(1,1)" fill="#FFFFFF" stroke="#FFFFFF" stroke-width="0" font-size="9" textLength="12" lengthAdjust="spacingAndGlyphs">1.9</text>
<rect x="975" y="487" width="1" height="1" fill="#0000FF"/>
<rect x="3" y="568" width="1" height="3" fill="#0000FF"/>
<text filter="url(#cr)" transform="translate(2.3,580) scale(1,1)" fill="#0000FF" stroke="#0000FF" stroke-width="0" font-size="9" textLength="49.5" lengthAdjust="spacingAndGlyphs">13 Apr 2012</text>
<rect x="67" y="568" width="1" height="3" fill="#0000FF"/>
<text filter="url(#cr)" transform="translate(66.3,580) scale(1,1)" fill="#0000FF" stroke="#0000FF" stroke-width="0" font-size="9" textLength="52.5" lengthAdjust="spacingAndGlyphs">13 Apr 09:30</text>
<rect x="131" y="568" width="1" height="3" fill="#0000FF"/>
<text filter="url(#cr)" transform="translate(130.3,580) scale(1,1)" fill="#0000FF" stroke="#0000FF" stroke-width="0" font-size="9" textLength="52.5" lengthAdjust="spacingAndGlyphs">13 Apr 09:38</text>
<rect x="195" y="568" width="1" height="3" fill="#0000FF"/>
<text filter="url(#cr)" transform="translate(194.3,580) scale(1,1)" fill="#0000FF" stroke="#0000FF" stroke-width="0" font-size="9" textLength="52.5" lengthAdjust="spacingAndGlyphs">13 Apr 09:46</text>
<rect x="259" y="568" width="1" height="3" fill="#0000FF"/>
<text filter="url(#cr)" transform="translate(258.3,580) scale(1,1)" fill="#0000FF" stroke="#0000FF" stroke-width="0" font-size="9" textLength="52.5" lengthAdjust="spacingAndGlyphs">13 Apr 09:54</text>
<rect x="323" y="568" width="1" height="3" fill="#0000FF"/>
<text filter="url(#cr)" transform="translate(322.3,580) scale(1,1)" fill="#0000FF" stroke="#0000FF" stroke-width="0" font-size="9" textLength="52.5" lengthAdjust="spacingAndGlyphs">13 Apr 10:02</text>
<rect x="387" y="568" width="1" height="3" fill="#0000FF"/>
<text filter="url(#cr)" transform="translate(386.3,580) scale(1,1)" fill="#0000FF" stroke="#0000FF" stroke-width="0" font-size="9" textLength="52.5" lengthAdjust="spacingAndGlyphs">13 Apr 10:10</text>
<rect x="451" y="568" width="1" height="3" fill="#0000FF"/>
<text filter="url(#cr)" transform="translate(450.3,580) scale(1,1)" fill="#0000FF" stroke="#0000FF" stroke-width="0" font-size="9" textLength="52.5" lengthAdjust="spacingAndGlyphs">13 Apr 10:18</text>
<rect x="515" y="568" width="1" height="3" fill="#0000FF"/>
<text filter="url(#cr)" transform="translate(514.3,580) scale(1,1)" fill="#0000FF" stroke="#0000FF" stroke-width="0" font-size="9" textLength="52.5" lengthAdjust="spacingAndGlyphs">13 Apr 10:26</text>
<rect x="579" y="568" width="1" height="3" fill="#0000FF"/>
<text filter="url(#cr)" transform="translate(578.3,580) scale(1,1)" fill="#0000FF" stroke="#0000FF" stroke-width="0" font-size="9" textLength="52.5" lengthAdjust="spacingAndGlyphs">13 Apr 10:34</text>
<rect x="643" y="568" width="1" height="3" fill="#0000FF"/>
<text filter="url(#cr)" transform="translate(642.3,580) scale(1,1)" fill="#0000FF" stroke="#0000FF" stroke-width="0" font-size="9" textLength="52.5" lengthAdjust="spacingAndGlyphs">13 Apr 10:42</text>
<rect x="707" y="568" width="1" height="3" fill="#0000FF"/>
<text filter="url(#cr)" transform="translate(706.3,580) scale(1,1)" fill="#0000FF" stroke="#0000FF" stroke-width="0" font-size="9" textLength="52.5" lengthAdjust="spacingAndGlyphs">13 Apr 10:50</text>
<rect x="771" y="568" width="1" height="3" fill="#0000FF"/>
<text filter="url(#cr)" transform="translate(770.3,580) scale(1,1)" fill="#0000FF" stroke="#0000FF" stroke-width="0" font-size="9" textLength="52.5" lengthAdjust="spacingAndGlyphs">13 Apr 10:58</text>
<rect x="835" y="568" width="1" height="3" fill="#0000FF"/>
<text filter="url(#cr)" transform="translate(834.3,580) scale(1,1)" fill="#0000FF" stroke="#0000FF" stroke-width="0" font-size="9" textLength="52.5" lengthAdjust="spacingAndGlyphs">13 Apr 11:06</text>
<rect x="899" y="568" width="1" height="3" fill="#0000FF"/>
<text filter="url(#cr)" transform="translate(898.3,580) scale(1,1)" fill="#0000FF" stroke="#0000FF" stroke-width="0" font-size="9" textLength="52.5" lengthAdjust="spacingAndGlyphs">13 Apr 11:14</text>
<rect x="963" y="568" width="1" height="3" fill="#0000FF"/>
<text filter="url(#cr)" transform="translate(962.3,580) scale(1,1)" fill="#0000FF" stroke="#0000FF" stroke-width="0" font-size="9" textLength="52.5" lengthAdjust="spacingAndGlyphs">13 Apr 11:22</text>
</g>
</svg>
</body></html>
